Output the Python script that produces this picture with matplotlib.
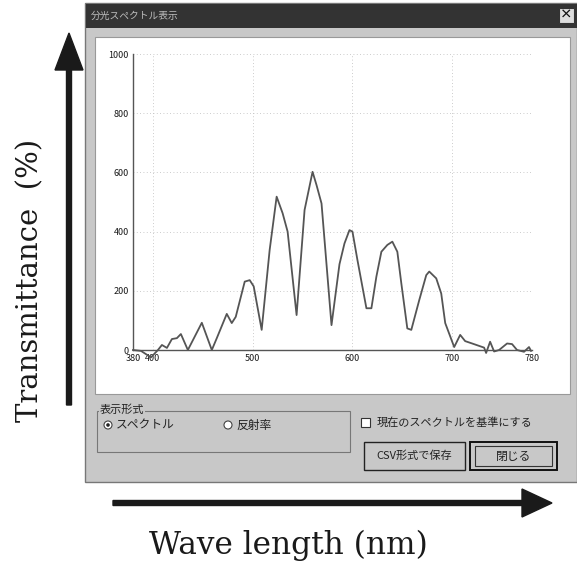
import numpy as np
import matplotlib
matplotlib.use('Agg')
import matplotlib.pyplot as plt
from matplotlib.patches import Rectangle, Circle, FancyArrow

plt.rcParams['font.family'] = ['Noto Sans CJK JP', 'DejaVu Sans']

# spectrum (wavelength nm, value)
wavelength = [380, 388, 398, 405, 409, 414, 419, 424, 428, 435, 449, 459, 464,
              474, 479, 483, 492, 497, 501, 509, 517, 524, 530, 535, 544, 552,
              560, 564, 569, 579, 587, 592, 597, 600, 605, 614, 619, 624, 629,
              635, 640, 645, 649, 655, 659, 667, 674, 677, 684, 689, 693, 702,
              708, 713, 720, 732, 734, 738, 742, 747, 755, 760, 765, 772, 777, 779]
spectrum = [0, -3, -25, 0, 17, 7, 37, 40, 54, 0, 92, 0, 40,
            122, 91, 112, 231, 236, 215, 68, 338, 518, 462, 400, 118, 473,
            602, 557, 495, 84, 290, 360, 405, 400, 304, 141, 141, 248, 332,
            355, 366, 332, 225, 73, 68, 169, 253, 265, 242, 191, 91, 10,
            51, 30, 22, 8, -10, 28, -5, 0, 22, 20, 0, -6, 10, -3]

xticks = [380, 400, 500, 600, 700, 780]
yticks = [0, 200, 400, 600, 800, 1000]

title = '分光スペクトル表示'
group_label = '表示形式'
radio_labels = ['スペクトル', '反射率']
check_label = '現在のスペクトルを基準にする'
button_labels = ['CSV形式で保存', '閉じる']

W, H = 577, 566
fig = plt.figure(figsize=(W / 100, H / 100), dpi=100)
fig.patch.set_facecolor('white')

# background layer in pixel coordinates
bg = fig.add_axes([0, 0, 1, 1])
bg.set_xlim(0, W)
bg.set_ylim(H, 0)
bg.axis('off')

# dialog window
bg.add_patch(Rectangle((85, 3), 492, 479, fc='#c8c8c8', ec='#777777', lw=1))
bg.add_patch(Rectangle((86, 4), 491, 24, fc='#333333', ec='none'))
bg.text(91, 16, title, color='#bdbdbd', fontsize=7, va='center')
bg.add_patch(Rectangle((559, 8), 15, 15, fc='#dddddd', ec='#333333', lw=0.8))
bg.text(566.5, 15.5, '×', fontsize=9, fontweight='bold', ha='center', va='center',
        color='#111111')
bg.add_patch(Rectangle((95, 37), 475, 357, fc='white', ec='#999999', lw=0.8))

# display-mode group box
bg.add_patch(Rectangle((97, 411), 253, 41, fc='none', ec='#777777', lw=0.8))
bg.text(100, 410, group_label, fontsize=8, va='center', color='#222222',
        bbox=dict(fc='#c8c8c8', ec='none', pad=0.5))
for cx, lab in zip([108, 228], radio_labels):
    bg.add_patch(Circle((cx, 425), 4, fc='white', ec='#444444', lw=0.8))
    bg.text(cx + 8, 425, lab, fontsize=8.5, va='center', color='#222222')
bg.add_patch(Circle((108, 425), 1.8, fc='#222222', ec='none'))

# checkbox
bg.add_patch(Rectangle((361, 418), 9, 9, fc='white', ec='#333333', lw=0.8))
bg.text(377, 423, check_label, fontsize=8, va='center', color='#222222')

# buttons
bg.add_patch(Rectangle((364, 442), 101, 28, fc='#c8c8c8', ec='#222222', lw=1))
bg.text(414.5, 456, button_labels[0], fontsize=8, ha='center', va='center',
        color='#222222')
bg.add_patch(Rectangle((470, 442), 87, 28, fc='#c8c8c8', ec='#111111', lw=1.4))
bg.add_patch(Rectangle((475, 446), 77, 20, fc='none', ec='#333333', lw=0.8))
bg.text(513.5, 456, button_labels[1], fontsize=8.5, ha='center', va='center',
        color='#222222')

# big arrows and labels
bg.add_patch(FancyArrow(69, 405, 0, -372, width=5, head_width=28, head_length=37,
                        length_includes_head=True, color='#1a1a1a'))
bg.add_patch(FancyArrow(113, 503, 439, 0, width=5, head_width=28, head_length=30,
                        length_includes_head=True, color='#1a1a1a'))
bg.text(288, 545, 'Wave length (nm)', family='DejaVu Serif', fontsize=22.5,
        ha='center', va='center', color='#1a1a1a')
bg.text(30, 280, 'Transmittance  (%)', family='DejaVu Serif', fontsize=21,
        rotation=90, ha='center', va='center', color='#1a1a1a')

# spectrum chart
ax = fig.add_axes([133 / W, 1 - 350 / H, 399 / W, 296 / H])
ax.patch.set_alpha(0)
ax.plot(wavelength, spectrum, color='#555555', lw=1.3, clip_on=False)
ax.set_xlim(380, 780)
ax.set_ylim(0, 1000)
ax.set_xticks(xticks)
ax.set_yticks(yticks)
ax.tick_params(labelsize=6.5, length=0, pad=3, colors='#1a1a1a')
for s in ['top', 'right']:
    ax.spines[s].set_visible(False)
for s in ['left', 'bottom']:
    ax.spines[s].set_color('#555555')
    ax.spines[s].set_linewidth(1)
ax.grid(True, color='#bbbbbb', lw=0.6, ls=(0, (1, 3)))

fig.savefig('out.png', dpi=100)
